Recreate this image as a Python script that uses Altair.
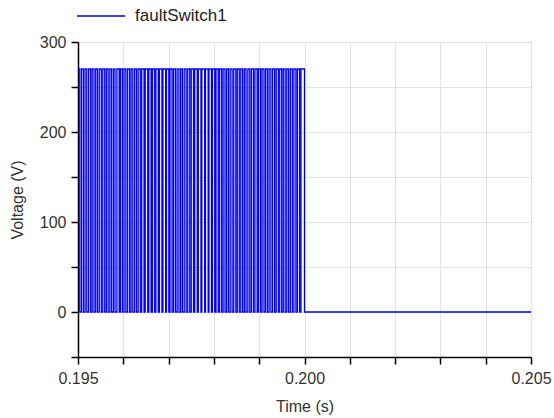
import altair as alt
import pandas as pd

# Pulse rising edges (microseconds after t = 0.195 s)
pulse_start_us = [0, 78, 156, 234, 313, 391, 469, 547, 625, 703, 781, 859, 938, 1016,
                  1094, 1172, 1250, 1328, 1406, 1484, 1563, 1641, 1719, 1797, 1875, 1953,
                  2031, 2109, 2188, 2266, 2344, 2422, 2500, 2578, 2656, 2734, 2813, 2891,
                  2969, 3047, 3125, 3203, 3281, 3359, 3438, 3516, 3594, 3672, 3750, 3828,
                  3906, 3984, 4063, 4141, 4219, 4297, 4375, 4453, 4531, 4609, 4688, 4766,
                  4844, 4922]
# Pulse on-durations (microseconds)
pulse_width_us = [40, 42, 38, 44, 41, 39, 45, 43, 40, 38, 36, 50, 42, 40, 44, 38, 41, 47,
                  52, 55, 50, 48, 53, 56, 60, 52, 45, 42, 40, 38, 42, 45, 50, 55, 58, 62,
                  60, 55, 50, 48, 45, 42, 40, 43, 46, 44, 40, 38, 42, 45, 48, 46, 43, 41,
                  40, 44, 47, 45, 42, 40, 43, 45, 48, 78]
pulse_high = 270.0
t0 = 0.195
t_end = 0.205
series_name = "faultSwitch1"

x_ticks = [0.195, 0.196, 0.197, 0.198, 0.199, 0.200, 0.201, 0.202, 0.203, 0.204, 0.205]
y_ticks = [-50, 0, 50, 100, 150, 200, 250, 300]

rows = []
for s, w in zip(pulse_start_us, pulse_width_us):
    rows.append({"t": t0 + s * 1e-6, "v": pulse_high})
    rows.append({"t": t0 + (s + w) * 1e-6, "v": 0.0})
rows.append({"t": t_end, "v": 0.0})
df = pd.DataFrame(rows)
df["series"] = series_name

font = "Liberation Sans"

chart = alt.Chart(df).mark_line(interpolate="step-after", strokeWidth=1.3).encode(
    x=alt.X("t:Q", scale=alt.Scale(domain=[0.195, 0.205], nice=False, zero=False),
            axis=alt.Axis(title="Time (s)", values=x_ticks,
                          labelExpr="indexof(['0.195','0.200','0.205'], format(datum.value,'.3f')) >= 0 ? format(datum.value,'.3f') : ''",
                          tickSize=7, labelPadding=6, titlePadding=12,
                          labelFontSize=16, titleFontSize=16, labelFont=font, titleFont=font,
                          labelColor="#333", titleColor="#333", titleFontWeight="normal",
                          domainColor="#000", tickColor="#000", domainWidth=1.5, tickWidth=1.5,
                          gridColor="#e3e3e3", labelFlush=False, labelOverlap=False)),
    y=alt.Y("v:Q", scale=alt.Scale(domain=[-50, 300], nice=False, zero=False),
            axis=alt.Axis(title="Voltage (V)", values=y_ticks,
                          labelExpr="datum.value % 100 == 0 && datum.value >= 0 ? datum.label : ''",
                          tickSize=7, labelPadding=5, titlePadding=14,
                          labelFontSize=16, titleFontSize=16, labelFont=font, titleFont=font,
                          labelColor="#333", titleColor="#333", titleFontWeight="normal",
                          domainColor="#000", tickColor="#000", domainWidth=1.5, tickWidth=1.5,
                          gridColor="#e3e3e3", labelOverlap=False)),
    color=alt.Color("series:N", scale=alt.Scale(range=["#0000ff"]),
                    legend=alt.Legend(title=None, orient="none", legendX=-2, legendY=-51,
                                      symbolType="stroke", symbolSize=2304, symbolStrokeWidth=1.5,
                                      labelFont=font, labelFontSize=17, labelColor="#222",
                                      labelOffset=9)),
).properties(
    width=453, height=315,
    autosize=alt.AutoSizeParams(type="none"),
    padding={"left": 78, "top": 42, "right": 23, "bottom": 61},
).configure_view(stroke="#444", strokeWidth=1)

chart.save("out.html", embed_options={"renderer": "svg", "actions": False})
